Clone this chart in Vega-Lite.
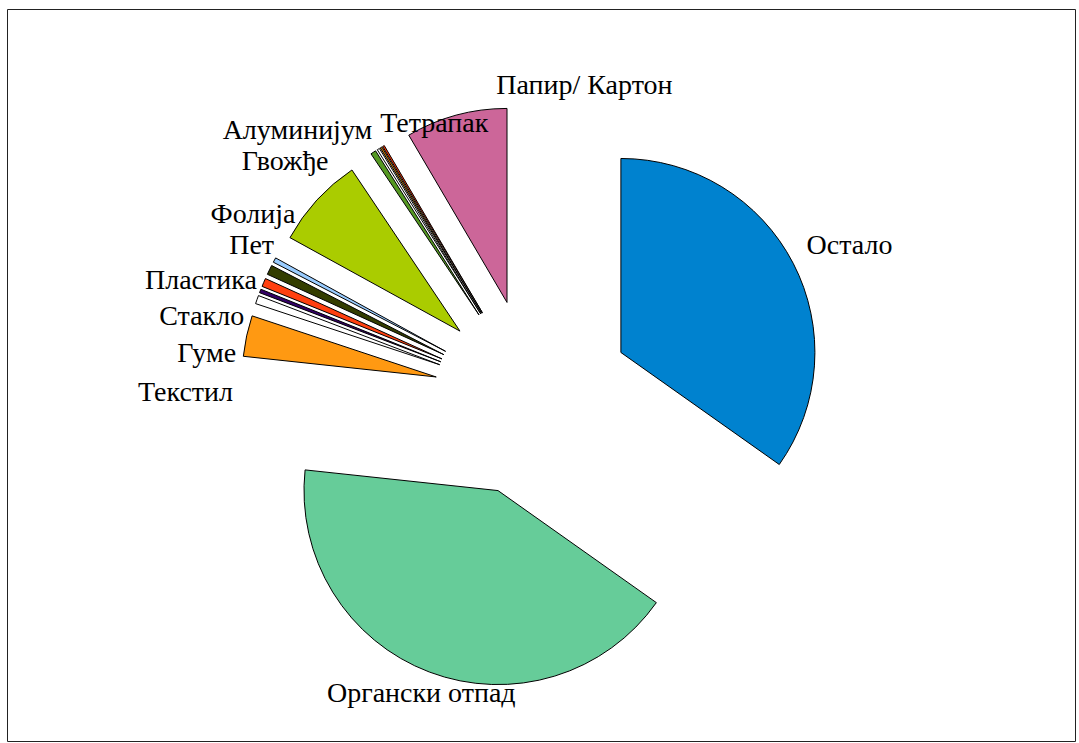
{
  "$schema": "https://vega.github.io/schema/vega-lite/v6.json",
  "width": 1068,
  "height": 732,
  "autosize": {"type": "none"},
  "padding": {"left": 7, "top": 9, "right": 4, "bottom": 2},
  "background": "white",
  "config": {"view": {"stroke": "#222222", "strokeWidth": 1}},
  "data": {
    "values": [
      {"category": "Остало", "value": 34.8},
      {"category": "Органски отпад", "value": 41.9},
      {"category": "Текстил", "value": 3.4},
      {"category": "Неозначено 1", "value": 0.7},
      {"category": "Гуме", "value": 0.3},
      {"category": "Стакло", "value": 0.7},
      {"category": "Пластика", "value": 0.8},
      {"category": "Пет", "value": 0.4},
      {"category": "Фолија", "value": 7.6},
      {"category": "Гвожђе", "value": 0.45},
      {"category": "Неозначено 2", "value": 0.2},
      {"category": "Алуминијум", "value": 0.15},
      {"category": "Тетрапак", "value": 0.15},
      {"category": "Папир/ Картон", "value": 8.45}
    ]
  },
  "transform": [
    {"window": [{"op": "sum", "field": "value", "as": "end"}], "frame": [null, 0]},
    {"calculate": "datum.end - datum.value", "as": "start"},
    {"calculate": "(datum.start + datum.end) / 2", "as": "mid"},
    {"calculate": "sin(2 * PI * datum.mid / 100)", "as": "ex"},
    {"calculate": "cos(2 * PI * datum.mid / 100)", "as": "ey"}
  ],
  "resolve": {"scale": {"theta": "independent"}},
  "layer": [
    {
      "mark": {"type": "arc", "outerRadius": 194, "stroke": "#000000", "strokeWidth": 1},
      "encoding": {
        "theta": {"field": "start", "type": "quantitative", "scale": {"domain": [0, 100]}},
        "theta2": {"field": "end"},
        "x": {"field": "ex", "type": "quantitative", "scale": {"domain": [-5.313, 5.475], "nice": false, "zero": false}, "axis": null},
        "y": {"field": "ey", "type": "quantitative", "scale": {"domain": [-3.465, 3.929], "nice": false, "zero": false}, "axis": null},
        "color": {
          "field": "category",
          "type": "nominal",
          "scale": {
            "domain": ["Остало", "Органски отпад", "Текстил", "Неозначено 1", "Гуме", "Стакло", "Пластика", "Пет", "Фолија", "Гвожђе", "Неозначено 2", "Алуминијум", "Тетрапак", "Папир/ Картон"],
            "range": ["#0082CF", "#66CC99", "#FF9912", "#FFFFFF", "#330066", "#FF4010", "#333D00", "#99CCFF", "#AACC00", "#559922", "#FFFFFF", "#CC7A00", "#FF3300", "#CC6699"]
          },
          "legend": null
        }
      }
    },
    {
      "transform": [{"filter": {"field": "category", "oneOf": ["Текстил", "Гуме", "Стакло", "Пластика", "Пет", "Фолија"]}}],
      "mark": {"type": "text", "align": "right", "baseline": "middle", "radius": 300, "font": "Liberation Serif", "fontSize": 28, "color": "#000000"},
      "encoding": {
        "theta": {"field": "category", "type": "nominal", "scale": {"type": "point", "domain": ["Текстил", "Гуме", "Стакло", "Пластика", "Пет", "Фолија"], "range": [4.73, 5.37], "padding": 0}},
        "x": {"datum": 0, "type": "quantitative", "axis": null},
        "y": {"datum": 0, "type": "quantitative", "axis": null},
        "text": {"field": "category"}
      }
    },
    {
      "transform": [{"filter": {"field": "category", "oneOf": ["Гвожђе", "Алуминијум"]}}],
      "mark": {"type": "text", "align": "right", "baseline": "middle", "radius": 312, "font": "Liberation Serif", "fontSize": 28, "color": "#000000"},
      "encoding": {
        "theta": {"field": "category", "type": "nominal", "scale": {"type": "point", "domain": ["Гвожђе", "Алуминијум"], "range": [5.568, 5.742], "padding": 0}},
        "x": {"datum": 0, "type": "quantitative", "axis": null},
        "y": {"datum": 0, "type": "quantitative", "axis": null},
        "text": {"field": "category"}
      }
    },
    {
      "transform": [{"filter": {"field": "category", "oneOf": ["Тетрапак", "Папир/ Картон"]}}],
      "mark": {"type": "text", "align": "left", "baseline": "middle", "radius": 314, "font": "Liberation Serif", "fontSize": 28, "color": "#000000"},
      "encoding": {
        "theta": {"field": "category", "type": "nominal", "scale": {"type": "point", "domain": ["Тетрапак", "Папир/ Картон"], "range": [5.775, 6.166], "padding": 0}},
        "x": {"datum": 0, "type": "quantitative", "axis": null},
        "y": {"datum": 0, "type": "quantitative", "axis": null},
        "text": {"field": "category"}
      }
    },
    {
      "transform": [{"filter": {"field": "category", "equal": "Остало"}}],
      "mark": {"type": "text", "align": "left", "baseline": "middle", "radius": 308, "dy": -10, "font": "Liberation Serif", "fontSize": 28, "color": "#000000"},
      "encoding": {
        "theta": {"field": "mid", "type": "quantitative", "scale": {"domain": [0, 100]}},
        "x": {"datum": 0, "type": "quantitative", "axis": null},
        "y": {"datum": 0, "type": "quantitative", "axis": null},
        "text": {"field": "category"}
      }
    },
    {
      "transform": [{"filter": {"field": "category", "equal": "Органски отпад"}}],
      "mark": {"type": "text", "align": "center", "baseline": "middle", "radius": 316, "font": "Liberation Serif", "fontSize": 28, "color": "#000000"},
      "encoding": {
        "theta": {"field": "mid", "type": "quantitative", "scale": {"domain": [0, 100]}},
        "x": {"datum": 0, "type": "quantitative", "axis": null},
        "y": {"datum": 0, "type": "quantitative", "axis": null},
        "text": {"field": "category"}
      }
    }
  ]
}
